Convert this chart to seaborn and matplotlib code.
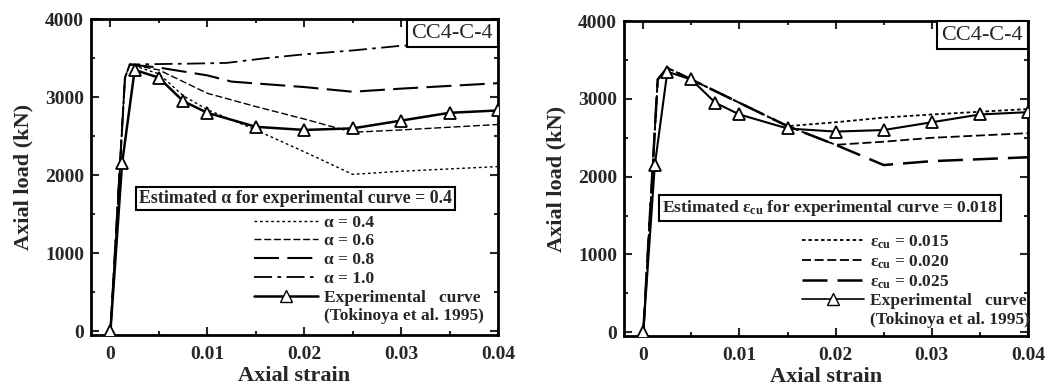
import numpy as np
import pandas as pd
import matplotlib
matplotlib.use("Agg")
import matplotlib.pyplot as plt
from matplotlib.lines import Line2D
from matplotlib.ticker import MultipleLocator
import seaborn as sns

sns.set_theme(style="ticks")
plt.rcParams['font.family'] = ['Liberation Serif', 'DejaVu Serif']
plt.rcParams['mathtext.fontset'] = 'custom'
plt.rcParams['mathtext.rm'] = 'Liberation Serif:bold'
plt.rcParams['mathtext.it'] = 'Liberation Serif:bold'

# ---------------- data ----------------
exp_strain = [0.0, 0.0012, 0.0025, 0.005, 0.0075, 0.01, 0.015, 0.02, 0.025, 0.03, 0.035, 0.04]
exp_load = [0, 2150, 3350, 3250, 2950, 2800, 2620, 2580, 2600, 2700, 2800, 2830]

# left panel: alpha curves
a04_strain = [0.0, 0.0015, 0.002, 0.005, 0.0075, 0.01, 0.015, 0.02, 0.025, 0.03, 0.04]
a04_load = [0, 3250, 3420, 3300, 3020, 2840, 2580, 2300, 2010, 2050, 2110]
a06_strain = [0.0, 0.0015, 0.002, 0.005, 0.01, 0.015, 0.02, 0.025, 0.03, 0.04]
a06_load = [0, 3250, 3420, 3350, 3050, 2880, 2720, 2550, 2580, 2650]
a08_strain = [0.0, 0.0015, 0.002, 0.005, 0.01, 0.0125, 0.02, 0.025, 0.03, 0.04]
a08_load = [0, 3250, 3420, 3380, 3280, 3200, 3130, 3070, 3110, 3180]
a10_strain = [0.0, 0.0015, 0.002, 0.008, 0.012, 0.016, 0.02, 0.025, 0.03, 0.04]
a10_load = [0, 3250, 3420, 3430, 3440, 3500, 3550, 3600, 3660, 3720]

# right panel: eps_cu curves
e015_strain = [0.0, 0.0015, 0.0025, 0.005, 0.01, 0.015, 0.02, 0.025, 0.03, 0.04]
e015_load = [0, 3250, 3400, 3250, 2950, 2650, 2700, 2760, 2800, 2870]
e020_strain = [0.0, 0.0015, 0.0025, 0.005, 0.01, 0.015, 0.02, 0.025, 0.03, 0.04]
e020_load = [0, 3250, 3400, 3250, 2950, 2650, 2410, 2450, 2500, 2560]
e025_strain = [0.0, 0.0015, 0.0025, 0.005, 0.01, 0.015, 0.02, 0.025, 0.03, 0.04]
e025_load = [0, 3250, 3400, 3250, 2950, 2650, 2410, 2150, 2200, 2250]

left_labels = ["α = 0.4", "α = 0.6", "α = 0.8", "α = 1.0"]
right_labels = [r"ε$_{\mathrm{cu}}$ = 0.015", r"ε$_{\mathrm{cu}}$ = 0.020",
                r"ε$_{\mathrm{cu}}$ = 0.025"]
exp_label = "Experimental   curve"
ref_label = "(Tokinoya et al. 1995)"
xticks = [0, 0.01, 0.02, 0.03, 0.04]
yticks = [0, 1000, 2000, 3000, 4000]

# ---------------- figure ----------------
fig = plt.figure(figsize=(10.49, 3.85), dpi=100)
axL = fig.add_axes([0.0868, 0.130, 0.388, 0.820])
axR = fig.add_axes([0.5949, 0.127, 0.385, 0.818])

left_styles = [(0, (2, 2)), (0, (5, 2)), (0, (12, 4)), (0, (10, 3, 2, 3))]
left_lw = [1.0, 1.0, 1.5, 1.3]
right_styles = [(0, (2, 1.5)), (0, (5, 2)), (0, (10, 4))]
right_lw = [1.3, 1.3, 1.8]


def style_axes(ax):
    ax.set_xlim(-0.002, 0.04)
    ax.set_ylim(-50, 4000)
    ax.set_xticks(xticks)
    ax.set_xticklabels(["0", "0.01", "0.02", "0.03", "0.04"])
    ax.set_yticks(yticks)
    ax.set_yticklabels([str(v) for v in yticks])
    ax.xaxis.set_minor_locator(MultipleLocator(0.005))
    ax.yaxis.set_minor_locator(MultipleLocator(500))
    ax.tick_params(which='both', direction='in', top=True, right=True, width=1.5,
                   labelsize=14)
    ax.tick_params(which='major', length=6)
    ax.tick_params(which='minor', length=3)
    ax.tick_params(axis='x', which='major', pad=8)
    ax.tick_params(axis='y', which='major', pad=5)
    for lab in ax.get_xticklabels() + ax.get_yticklabels():
        lab.set_fontweight('bold')
    for s in ax.spines.values():
        s.set_linewidth(2)
        s.set_color('black')
    ax.set_xlabel("Axial strain", fontsize=16, fontweight='bold', labelpad=2)
    ax.set_ylabel("Axial load (kN)", fontsize=16, fontweight='bold', labelpad=8)
    ax.text(0.988, 0.985, "CC4-C-4", transform=ax.transAxes, ha='right', va='top',
            fontsize=16, zorder=10,
            bbox=dict(boxstyle='square,pad=0.2', fc='white', ec='black', lw=1.5))


def plot_exp(ax, lw):
    sns.lineplot(x=exp_strain, y=exp_load, ax=ax, color='black', lw=lw,
                 marker='^', markersize=9, markerfacecolor='white',
                 markeredgecolor='black', markeredgewidth=1.3, sort=False,
                 estimator=None, zorder=5)


# left panel
curves_L = [(a04_strain, a04_load), (a06_strain, a06_load), (a08_strain, a08_load),
            (a10_strain, a10_load)]
for (xs, ys), ls, lw in zip(curves_L, left_styles, left_lw):
    sns.lineplot(x=xs, y=ys, ax=axL, color='black', lw=lw, linestyle=ls,
                 sort=False, estimator=None)
plot_exp(axL, 1.8)
style_axes(axL)

handlesL = [Line2D([], [], color='black', lw=lw, linestyle=ls)
            for ls, lw in zip(left_styles, left_lw)]
handlesL.append(Line2D([], [], color='black', lw=1.8, marker='^', markersize=9,
                       markerfacecolor='white', markeredgecolor='black'))
handlesL.append(Line2D([], [], color='none'))
legL = axL.legend(handlesL, left_labels + [exp_label, ref_label],
                  loc='upper left', bbox_to_anchor=(0.37, 0.42), frameon=False,
                  fontsize=12.5, handlelength=3.7, labelspacing=0.15,
                  handletextpad=0.35, borderpad=0.2)
for t in legL.get_texts():
    t.set_fontweight('bold')
axL.text(0.118, 0.405, "Estimated α for experimental curve = 0.4",
         transform=axL.transAxes, ha='left', va='bottom', fontsize=12.9,
         fontweight='bold', zorder=10,
         bbox=dict(boxstyle='square,pad=0.18', fc='white', ec='black', lw=1.5))

# right panel
curves_R = [(e015_strain, e015_load), (e020_strain, e020_load), (e025_strain, e025_load)]
for (xs, ys), ls, lw in zip(curves_R, right_styles, right_lw):
    sns.lineplot(x=xs, y=ys, ax=axR, color='black', lw=lw, linestyle=ls,
                 sort=False, estimator=None)
plot_exp(axR, 1.5)
style_axes(axR)

handlesR = [Line2D([], [], color='black', lw=lw, linestyle=ls)
            for ls, lw in zip(right_styles, right_lw)]
handlesR.append(Line2D([], [], color='black', lw=1.2, marker='^', markersize=9,
                       markerfacecolor='white', markeredgecolor='black'))
handlesR.append(Line2D([], [], color='none'))
legR = axR.legend(handlesR, right_labels + [exp_label, ref_label],
                  loc='upper left', bbox_to_anchor=(0.41, 0.365), frameon=False,
                  fontsize=12.5, handlelength=3.6, labelspacing=0.15,
                  handletextpad=0.35, borderpad=0.2)
for t in legR.get_texts():
    t.set_fontweight('bold')
axR.text(0.095, 0.375, r"Estimated ε$_{\mathrm{cu}}$ for experimental curve = 0.018",
         transform=axR.transAxes, ha='left', va='bottom', fontsize=12.6,
         fontweight='bold', zorder=10,
         bbox=dict(boxstyle='square,pad=0.18', fc='white', ec='black', lw=1.5))

fig.savefig("out.png", dpi=100)
